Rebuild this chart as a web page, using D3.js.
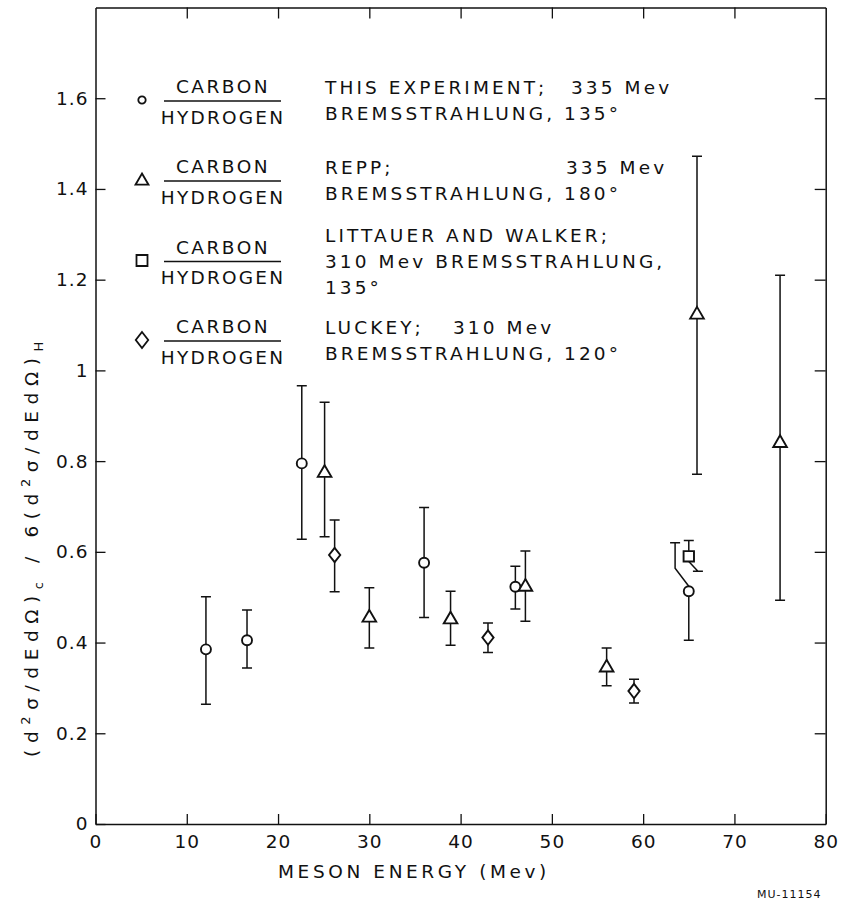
<!DOCTYPE html>
<html>
<head>
<meta charset="utf-8">
<script src="https://cdn.jsdelivr.net/npm/d3@7"></script>
<style>
  html, body { margin: 0; padding: 0; background: #fff; }
  svg { display: block; }
  text { font-family: "DejaVu Sans", sans-serif; fill: #111; }
</style>
</head>
<body>
<div id="chart"></div>
<script>
// ticks
const xTicks = [0, 10, 20, 30, 40, 50, 60, 70, 80];
const yTicks = [0, 0.2, 0.4, 0.6, 0.8, 1, 1.2, 1.4, 1.6];
const yTickLabels = ['0', '0.2', '0.4', '0.6', '0.8', '1', '1.2', '1.4', '1.6'];

// this experiment, 335 Mev bremsstrahlung, 135 deg (circles)
const thisExpE = [12.1, 16.6, 22.6, 36, 46, 65];
const thisExpR = [0.385, 0.405, 0.795, 0.576, 0.523, 0.513];
const thisExpLo = [0.264, 0.344, 0.628, 0.455, 0.474, 0.405];
const thisExpHi = [0.501, 0.472, 0.966, 0.698, 0.568, 0.62];
const thisExpHiE = [null, null, null, null, null, 63.5]; // upper bar moved aside

// Repp, 335 Mev, 180 deg (triangles)
const reppE = [25.1, 30, 38.9, 47.1, 56, 65.9, 75];
const reppR = [0.776, 0.457, 0.453, 0.525, 0.347, 1.125, 0.842];
const reppLo = [0.633, 0.388, 0.394, 0.447, 0.305, 0.771, 0.493];
const reppHi = [0.930, 0.521, 0.513, 0.602, 0.388, 1.472, 1.21];

// Littauer and Walker, 310 Mev, 135 deg (square)
const littE = [65];
const littR = [0.59];
const littLo = [0.557];
const littHi = [0.625];
const littLoE = [66]; // lower bar moved aside

// Luckey, 310 Mev, 120 deg (diamonds)
const luckeyE = [26.2, 43, 59];
const luckeyR = [0.593, 0.411, 0.293];
const luckeyLo = [0.512, 0.378, 0.267];
const luckeyHi = [0.670, 0.443, 0.319];

// legend text
const legendTop = 'CARBON';
const legendBottom = 'HYDROGEN';
const legendNotes = [
  [['THIS EXPERIMENT;', '335 Mev'], ['BREMSSTRAHLUNG, 135°']],
  [['REPP;', '335 Mev'], ['BREMSSTRAHLUNG, 180°']],
  [['LITTAUER AND WALKER;'], ['310 Mev BREMSSTRAHLUNG,'], ['135°']],
  [['LUCKEY;', '310 Mev'], ['BREMSSTRAHLUNG, 120°']]
];

const width = 843;
const height = 907;
const margin = { top: 7.5, right: 17.3, bottom: 83, left: 95.5 };
const fontSize = 18.5;

const svg = d3.select('#chart')
  .append('svg')
  .attr('width', width)
  .attr('height', height);

const x = d3.scaleLinear().domain([0, 80]).range([margin.left, width - margin.right]);
const y = d3.scaleLinear().domain([0, 1.8]).range([height - margin.bottom, margin.top]);

// custom marker shapes (size = half width in px)
const circleType = { draw(ctx, s) { ctx.moveTo(s, 0); ctx.arc(0, 0, s, 0, 2 * Math.PI); } };
const triangleType = { draw(ctx, s) { ctx.moveTo(0, -s); ctx.lineTo(s, s * 0.72); ctx.lineTo(-s, s * 0.72); ctx.closePath(); } };
const squareType = { draw(ctx, s) { ctx.rect(-s, -s, 2 * s, 2 * s); } };
const diamondType = { draw(ctx, s) { ctx.moveTo(0, -s); ctx.lineTo(s * 0.78, 0); ctx.lineTo(0, s); ctx.lineTo(-s * 0.78, 0); ctx.closePath(); } };

// axes, ticks pointing inward
const axisStyle = g => {
  g.select('.domain').attr('stroke', '#111').attr('stroke-width', 1.5);
  g.selectAll('.tick line').attr('stroke', '#111').attr('stroke-width', 1.3);
};
const labelStyle = g => g.selectAll('.tick text')
  .attr('font-size', fontSize).attr('letter-spacing', 1)
  .attr('font-family', '"DejaVu Sans", sans-serif').attr('fill', '#111');

svg.append('g')
  .attr('transform', `translate(0,${y(0)})`)
  .call(d3.axisBottom(x).tickValues(xTicks).tickSize(-10).tickSizeOuter(0).tickPadding(11).tickFormat(d3.format('d')))
  .call(axisStyle)
  .call(labelStyle);

svg.append('g')
  .attr('transform', `translate(0,${y(1.8)})`)
  .call(d3.axisTop(x).tickValues(xTicks.slice(1, -1)).tickSize(-11).tickSizeOuter(0).tickFormat(''))
  .call(axisStyle);

svg.append('g')
  .attr('transform', `translate(${x(0)},0)`)
  .call(d3.axisLeft(y).tickValues(yTicks).tickSize(-10).tickSizeOuter(0).tickPadding(7)
    .tickFormat((d, i) => yTickLabels[i]))
  .call(axisStyle)
  .call(labelStyle);

svg.append('g')
  .attr('transform', `translate(${x(80)},0)`)
  .call(d3.axisRight(y).tickValues(yTicks.slice(1)).tickSize(-11).tickSizeOuter(0).tickFormat(''))
  .call(axisStyle);

// error bars + markers
function drawSeries(E, R, Lo, Hi, type, s, hiE, loE) {
  const g = svg.append('g');
  const rows = E.map((e, i) => ({ e, r: R[i], lo: Lo[i], hi: Hi[i], hiE: hiE ? hiE[i] : null, loE: loE ? loE[i] : null }));

  rows.forEach(d => {
    const cx = x(d.e), cy = y(d.r);
    [[d.hi, d.hiE, -1], [d.lo, d.loE, 1]].forEach(([v, offE, dir]) => {
      const ty = y(v);
      let bx = cx;
      const p = d3.path();
      if (offE == null) {
        p.moveTo(cx, cy);
        p.lineTo(cx, ty);
      } else {
        bx = x(offE);
        const sy = cy + dir * s;
        const bend = Math.abs(ty - sy) > 18 ? sy + dir * 18 : ty;
        p.moveTo(cx, sy);
        p.lineTo(bx, bend);
        p.lineTo(bx, ty);
      }
      p.moveTo(bx - 5, ty);
      p.lineTo(bx + 5, ty);
      g.append('path').attr('d', p.toString())
        .attr('fill', 'none').attr('stroke', '#111').attr('stroke-width', 1.5);
    });
  });

  g.selectAll('.marker')
    .data(rows)
    .join('path')
    .attr('class', 'marker')
    .attr('transform', d => `translate(${x(d.e)},${y(d.r)})`)
    .attr('d', d3.symbol().type(type).size(s))
    .attr('fill', '#fff')
    .attr('stroke', '#111')
    .attr('stroke-width', 1.9);
}

drawSeries(thisExpE, thisExpR, thisExpLo, thisExpHi, circleType, 5, thisExpHiE, null);
drawSeries(reppE, reppR, reppLo, reppHi, triangleType, 6.8, null, null);
drawSeries(littE, littR, littLo, littHi, squareType, 5.2, null, littLoE);
drawSeries(luckeyE, luckeyR, luckeyLo, luckeyHi, diamondType, 7.2, null, null);

// legend
const legendRowY = [100, 180, 260.5, 340];
const legendTypes = [circleType, triangleType, squareType, diamondType];
const legendSizes = [3.7, 6.5, 5.5, 8];
const fracCenter = 223;
const noteX = 325;
const noteTabX = [571, 566, null, 453];

const legend = svg.append('g').attr('class', 'legend');
legendRowY.forEach((ry, i) => {
  legend.append('path')
    .attr('transform', `translate(142,${ry})`)
    .attr('d', d3.symbol().type(legendTypes[i]).size(legendSizes[i]))
    .attr('fill', 'none').attr('stroke', '#111').attr('stroke-width', 1.8);

  legend.append('text')
    .attr('x', fracCenter).attr('y', ry - 7)
    .attr('text-anchor', 'middle')
    .attr('font-size', fontSize).attr('letter-spacing', 2.5)
    .text(legendTop);
  legend.append('line')
    .attr('x1', 164).attr('x2', 281)
    .attr('y1', ry + 1).attr('y2', ry + 1)
    .attr('stroke', '#111').attr('stroke-width', 1.3);
  legend.append('text')
    .attr('x', fracCenter).attr('y', ry + 23.5)
    .attr('text-anchor', 'middle')
    .attr('font-size', fontSize).attr('letter-spacing', 2.2)
    .text(legendBottom);

  const lines = legendNotes[i];
  const y0 = ry + 7 - (lines.length - 1) * 13;
  lines.forEach((parts, j) => {
    legend.append('text')
      .attr('x', noteX).attr('y', y0 + j * 26)
      .attr('font-size', fontSize).attr('letter-spacing', 3.1)
      .text(parts[0]);
    if (parts[1]) {
      legend.append('text')
        .attr('x', noteTabX[i]).attr('y', y0 + j * 26)
        .attr('font-size', fontSize).attr('letter-spacing', 3.1)
        .text(parts[1]);
    }
  });
});

// axis titles
svg.append('text')
  .attr('x', 414).attr('y', 878)
  .attr('text-anchor', 'middle')
  .attr('font-size', fontSize).attr('letter-spacing', 3.6)
  .text('MESON ENERGY (Mev)');

const yTitle = svg.append('text')
  .attr('transform', 'translate(38,546) rotate(-90)')
  .attr('text-anchor', 'middle')
  .attr('font-size', fontSize).attr('letter-spacing', 6.6);
yTitle.append('tspan').text('(d');
yTitle.append('tspan').attr('font-size', 13).attr('dy', -8).text('2');
yTitle.append('tspan').attr('dy', 8).text('σ/dEdΩ)');
yTitle.append('tspan').attr('font-size', 13).attr('dy', 5).text('c');
yTitle.append('tspan').attr('dy', -5).text(' / 6(d');
yTitle.append('tspan').attr('font-size', 13).attr('dy', -8).text('2');
yTitle.append('tspan').attr('dy', 8).text('σ/dEdΩ)');
yTitle.append('tspan').attr('font-size', 13).attr('dy', 5).text('H');

// figure number
svg.append('text')
  .attr('x', 757).attr('y', 898)
  .attr('font-size', 11).attr('letter-spacing', 1)
  .attr('fill', '#777')
  .text('MU-11154');
</script>
</body>
</html>
